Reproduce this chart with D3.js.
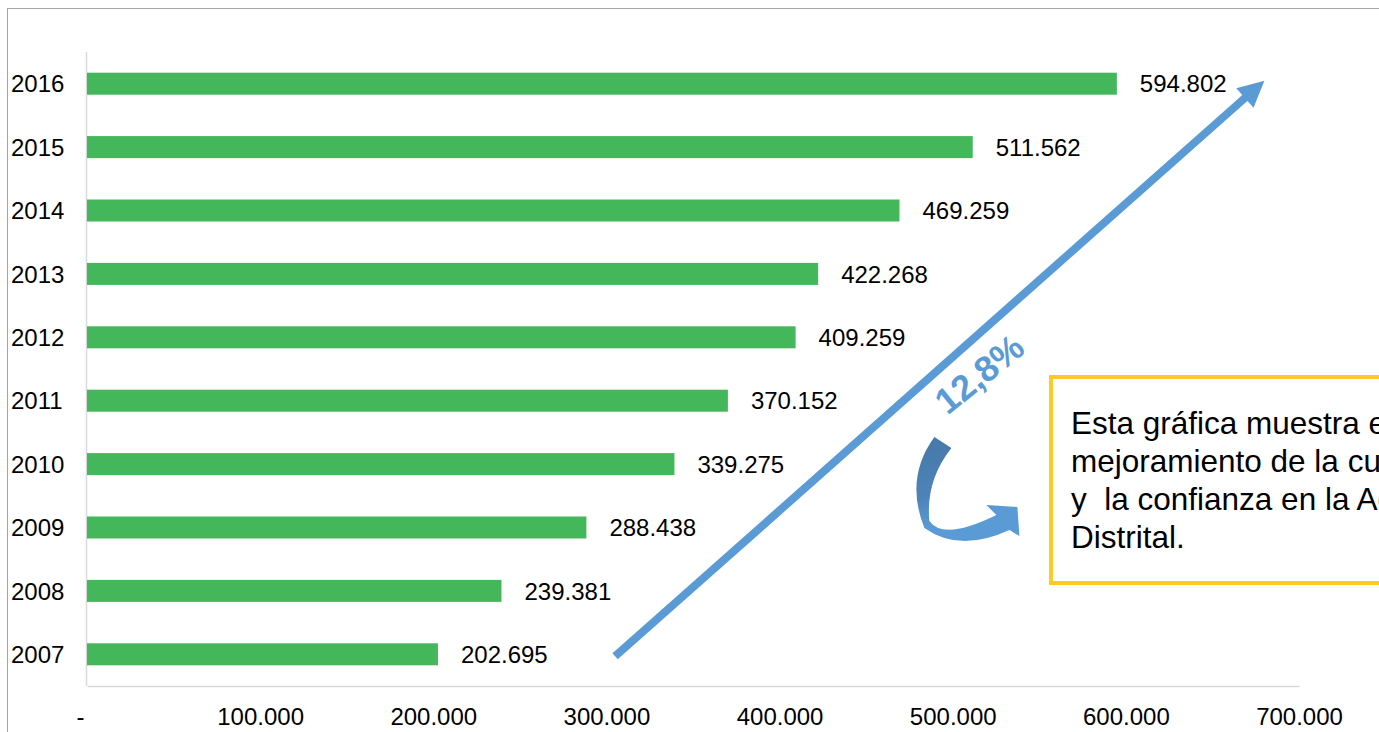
<!DOCTYPE html>
<html>
<head>
<meta charset="utf-8">
<script src="https://cdnjs.cloudflare.com/ajax/libs/d3/7.8.5/d3.min.js"></script>
<style>
  html, body { margin: 0; padding: 0; background: #fff; }
  svg { display: block; font-family: Arial, "Liberation Sans", sans-serif; }
</style>
</head>
<body>
<svg id="chart" width="1379" height="732"></svg>
<script>
var years = ['2016', '2015', '2014', '2013', '2012', '2011', '2010', '2009', '2008', '2007']
var values = [594802, 511562, 469259, 422268, 409259, 370152, 339275, 288438, 239381, 202695]
var xTicks = [0, 100000, 200000, 300000, 400000, 500000, 600000, 700000]
var growthLabel = '12,8%'
var noteLines = [
  'Esta gráfica muestra el',
  'mejoramiento de la cultura',
  'y  la confianza en la Administración',
  'Distrital.'
]
// arrow runs from ~305k at 2007 to ~680k at 2016
var arrowFrom = {v: 305000, year: '2007'}
var arrowTo = {v: 680000, year: '2016'}

var data = years.map((year, i) => ({year, value: values[i]}))

var es = d3.formatLocale({decimal: ',', thousands: '.', grouping: [3], currency: ['$', '']})
var fmt = es.format(',.0f')

var W = 1379, H = 732
var margin = {top: 52, left: 87, right: 80, bottom: 46}

var svg = d3.select('#chart')

// outer frame
svg.append('rect')
  .attr('x', 7.5).attr('y', 8.5)
  .attr('width', W + 20).attr('height', H + 20)
  .attr('fill', 'none').attr('stroke', '#a6a6a6').attr('stroke-width', 1)

var x = d3.scaleLinear()
  .domain([0, 700000])
  .range([margin.left, W - margin.right])

var y = d3.scaleBand()
  .domain(years)
  .range([margin.top, H - margin.bottom])
  .paddingInner(0.653)
  .paddingOuter(0.3265)

var axisY = H - margin.bottom

// y axis line
svg.append('line')
  .attr('x1', x(0) - 0.5).attr('x2', x(0) - 0.5)
  .attr('y1', margin.top).attr('y2', axisY)
  .attr('stroke', '#d9d9d9').attr('stroke-width', 1.5)

// x axis
var xAxis = d3.axisBottom(x)
  .tickValues(xTicks)
  .tickSize(0)
  .tickPadding(22)
  .tickFormat(d => d == 0 ? '-' : fmt(d))

var gx = svg.append('g')
  .attr('transform', 'translate(0,' + axisY + ')')
  .call(xAxis)
gx.select('.domain').attr('stroke', '#d9d9d9').attr('stroke-width', 1.5)
gx.selectAll('text')
  .attr('font-size', 24).attr('fill', '#000')
  .attr('font-family', 'Arial, "Liberation Sans", sans-serif')
gx.selectAll('.tick').filter(d => d == 0).select('text').attr('dx', -7)

// bars
svg.selectAll('rect.bar')
  .data(data)
  .join('rect')
  .attr('class', 'bar')
  .attr('x', x(0))
  .attr('y', d => y(d.year))
  .attr('width', d => x(d.value) - x(0))
  .attr('height', y.bandwidth())
  .attr('fill', '#44b75b')

// year labels
svg.selectAll('text.year')
  .data(data)
  .join('text')
  .attr('class', 'year')
  .attr('x', 11)
  .attr('y', d => y(d.year) + y.bandwidth()/2)
  .attr('dy', '0.36em')
  .attr('font-size', 24)
  .text(d => d.year)

// value labels
svg.selectAll('text.val')
  .data(data)
  .join('text')
  .attr('class', 'val')
  .attr('x', d => x(d.value) + 23)
  .attr('y', d => y(d.year) + y.bandwidth()/2)
  .attr('dy', '0.36em')
  .attr('font-size', 24)
  .text(d => fmt(d.value))

// growth arrow
var blue = '#5b9bd5'
var p0 = [x(arrowFrom.v), y(arrowFrom.year) + y.bandwidth()/2 + 2]
var p1 = [x(arrowTo.v), y(arrowTo.year) + y.bandwidth()/2 - 3]
var ang = Math.atan2(p1[1] - p0[1], p1[0] - p0[0])
var ux = Math.cos(ang), uy = Math.sin(ang)
var headLen = 26, headW = 13
var base = [p1[0] - ux*headLen, p1[1] - uy*headLen]

svg.append('line')
  .attr('x1', p0[0]).attr('y1', p0[1])
  .attr('x2', base[0] + ux*2).attr('y2', base[1] + uy*2)
  .attr('stroke', blue).attr('stroke-width', 8)

svg.append('path')
  .attr('d', 'M' + p1 +
    'L' + [base[0] - uy*headW, base[1] + ux*headW] +
    'L' + [base[0] + uy*headW, base[1] - ux*headW] + 'Z')
  .attr('fill', blue)

var t = 0.53
var tc = [p0[0] + (p1[0] - p0[0])*t - uy*30, p0[1] + (p1[1] - p0[1])*t + ux*30]
svg.append('text')
  .attr('transform', 'translate(' + tc + ') rotate(-39)')
  .attr('text-anchor', 'middle')
  .attr('dy', '0.36em')
  .attr('font-size', 36)
  .attr('font-weight', 'bold')
  .attr('fill', blue)
  .text(growthLabel)

// curved arrow
var defs = svg.append('defs')
var grad = defs.append('linearGradient')
  .attr('id', 'curveGrad')
  .attr('x1', 0).attr('y1', 0).attr('x2', 0.3).attr('y2', 1)
grad.append('stop').attr('offset', '0%').attr('stop-color', '#4677a6')
grad.append('stop').attr('offset', '55%').attr('stop-color', '#4d84b8')
grad.append('stop').attr('offset', '85%').attr('stop-color', '#5b9bd5')

var cg = svg.append('g')
  .attr('transform', 'translate(' + [x(490000), y('2010')] + ')')

cg.append('path')
  .attr('d', 'M-1,-16 L16,-5 Q-10,28 -6,68 Q8,88 61,62 L51,52 L82,54 L84,83 L74,77 Q24,100 -11,75 Q-31,25 -1,-16 Z')
  .attr('fill', 'url(#curveGrad)')

// note box
var box = svg.append('g')
box.append('rect')
  .attr('x', 1051).attr('y', 377)
  .attr('width', 420).attr('height', 206)
  .attr('fill', '#fff')
  .attr('stroke', '#ffca28').attr('stroke-width', 4)

box.selectAll('text')
  .data(noteLines)
  .join('text')
  .attr('x', 1071)
  .attr('y', (d, i) => 434 + i*38)
  .attr('font-size', 31.5)
  .style('white-space', 'pre')
  .text(d => d)
</script>
</body>
</html>
